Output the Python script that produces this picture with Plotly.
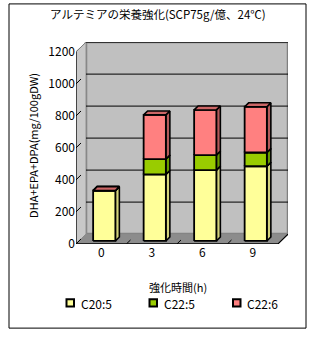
import plotly.graph_objects as go

# ---- data ----
categories = ["0", "3", "6", "9"]
series_names = ["C20:5", "C22:5", "C22:6"]
c20_5 = [315, 416, 443, 467]
c22_5 = [0, 96, 94, 86]
c22_6 = [0, 276, 282, 286]
y_ticks = [0, 200, 400, 600, 800, 1000, 1200]
title_text = "アルテミアの栄養強化(SCP75g/億、24℃)"
x_title = "強化時間(h)"
y_title = "DHA+EPA+DPA(mg/100gDW)"

W, H = 315, 341
FONT = "Noto Sans CJK JP"

front_fill = ["#FFFF99", "#99CC00", "#FF8080"]
top_fill = ["#E6E68A", "#7AA300", "#CC6666"]
side_fill = ["#D4D47A", "#669900", "#B35A5A"]

# pixel layout of the pseudo-3D box
PX_L, PX_R_FRONT, PY_B, PY_T_FRONT = 76, 278, 249, 53
D = 10  # depth in px
ncat = len(categories)
x0, x1 = -0.5, ncat - 0.5
u = (x1 - x0) / (PX_R_FRONT - PX_L)      # x units per px
ymax = y_ticks[-1]
v = ymax / (PY_B - PY_T_FRONT)            # y units per px

fig = go.Figure()

def poly(xs, ys, fill, lc="black", lw=1.0):
    fig.add_trace(go.Scatter(x=xs + [xs[0]], y=ys + [ys[0]], mode="lines",
                             fill="toself", fillcolor=fill,
                             line=dict(color=lc, width=lw),
                             hoverinfo="skip", showlegend=False))

def line(xs, ys, lc="black", lw=1.0):
    fig.add_trace(go.Scatter(x=xs, y=ys, mode="lines",
                             line=dict(color=lc, width=lw),
                             hoverinfo="skip", showlegend=False))

Du, Dv = D * u, D * v
# back wall
poly([x0 + Du, x1 + Du, x1 + Du, x0 + Du], [Dv, Dv, ymax + Dv, ymax + Dv], "#C0C0C0", "#808080", 2.5)
# side wall
poly([x0, x0 + Du, x0 + Du, x0], [0, Dv, ymax + Dv, ymax], "#C8C8C8", "#909090", 1)
# floor
poly([x0, x1, x1 + Du, x0 + Du], [0, 0, Dv, Dv], "#8C8C8C", "#8C8C8C", 1)
# gridlines on the back wall and ticks on the side wall
for t in y_ticks[1:]:
    line([x0 + Du, x1 + Du], [t + Dv, t + Dv], "black", 1)
for t in y_ticks:
    line([x0, x0 + Du * 0.5], [t, t + Dv * 0.5], "black", 1)
# front edges
line([x0, x0], [0, ymax], "black", 1.2)
line([x0 + Du, x0], [ymax + Dv, ymax], "#808080", 1)
line([x0, x1, x1 + Du], [0, 0, Dv], "black", 1.2)
for k in range(1, ncat):
    line([k - 0.5, k - 0.5 + Du * 0.4], [0, Dv * 0.4], "black", 1)

# bars (stacked, pseudo 3D)
f0, f1 = 3, 7
w = 0.22
series = [c20_5, c22_5, c22_6]
for i in range(ncat):
    base = 0
    for s, vals in enumerate(series):
        top = base + vals[i]
        xl0, xr0 = i - w + f0 * u, i + w + f0 * u
        xl1, xr1 = i - w + f1 * u, i + w + f1 * u
        b0, t0 = base + f0 * v, top + f0 * v
        b1, t1 = base + f1 * v, top + f1 * v
        poly([xr0, xr1, xr1, xr0], [b0, b1, t1, t0], side_fill[s], "black", 1.6)
        poly([xl0, xr0, xr0, xl0], [b0, b0, t0, t0], front_fill[s], "black", 1.8)
        poly([xl0, xr0, xr1, xl1], [t0, t0, t1, t1], top_fill[s], "black", 1.6)
        base = top

def PX(x):
    return x / W

def PY(y):
    return 1 - y / H

fig.update_layout(
    width=W, height=H,
    margin=dict(l=0, r=0, t=0, b=0),
    paper_bgcolor="white", plot_bgcolor="rgba(0,0,0,0)",
    showlegend=False,
    font=dict(family=FONT, size=12, color="black"),
    xaxis=dict(domain=[PX(PX_L), PX(PX_R_FRONT + D)],
               range=[x0, x0 + (PX_R_FRONT + D - PX_L) * u],
               tickmode="array", tickvals=list(range(ncat)), ticktext=categories,
               showgrid=False, zeroline=False, showline=False, ticks="",
               tickfont=dict(size=12, family=FONT), fixedrange=True),
    yaxis=dict(domain=[PY(PY_B), PY(PY_T_FRONT - D)],
               range=[0, (PY_B - PY_T_FRONT + D) * v],
               tickmode="array", tickvals=y_ticks, ticktext=[str(t) for t in y_ticks],
               showgrid=False, zeroline=False, showline=False, ticks="",
               tickfont=dict(size=12, family=FONT), fixedrange=True),
)

shapes = [dict(type="rect", xref="paper", yref="paper",
               x0=PX(9), x1=PX(306), y0=PY(335), y1=PY(4),
               line=dict(color="black", width=1), fillcolor="rgba(0,0,0,0)", layer="below")]
annotations = [
    dict(text=title_text, x=PX(158), y=PY(14), xref="paper", yref="paper",
         showarrow=False, font=dict(size=11.5, family=FONT), xanchor="center", yanchor="middle"),
    dict(text=x_title, x=PX(178), y=PY(293), xref="paper", yref="paper",
         showarrow=False, font=dict(size=11, family=FONT), xanchor="center", yanchor="middle"),
    dict(text=y_title, x=PX(33), y=PY(149), xref="paper", yref="paper", textangle=-90,
         showarrow=False, font=dict(size=11, family=FONT), xanchor="center", yanchor="middle"),
]
leg_x = [66.5, 149.5, 233]
for s, name in enumerate(series_names):
    lx = leg_x[s]
    shapes.append(dict(type="rect", xref="paper", yref="paper",
                       x0=PX(lx), x1=PX(lx + 7.5), y0=PY(313), y1=PY(305.5),
                       line=dict(color="black", width=2), fillcolor=front_fill[s]))
    annotations.append(dict(text=name, x=PX(lx + 12), y=PY(309.5), xref="paper", yref="paper",
                            showarrow=False, font=dict(size=12, family=FONT),
                            xanchor="left", yanchor="middle"))
fig.update_layout(shapes=shapes, annotations=annotations)

fig.write_html("out.html", config={"displayModeBar": False})
